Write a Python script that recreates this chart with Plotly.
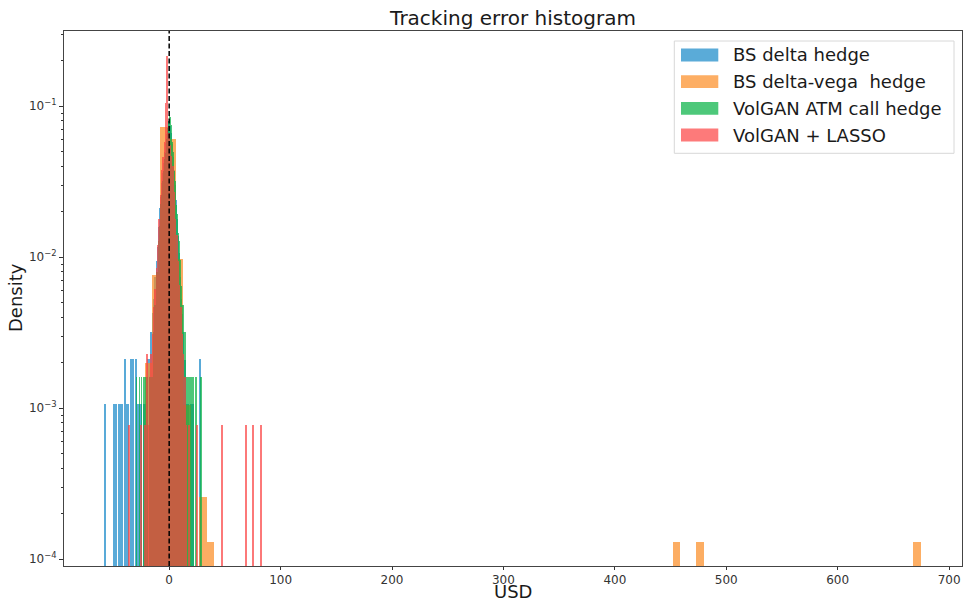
import plotly.graph_objects as go

# ---------------- data ----------------
# Each histogram: first bin left edge, bin width, indices of non-empty bins, densities
blue_start, blue_width = -57.8, 0.86
blue_bin_idx = [0, 9, 11, 14, 16, 18, 21, 22, 23, 24, 27, 29, 32, 33, 35, 37, 40, 42,
                45, 46, 47, 48, 49, 50, 51, 52, 53, 54, 55, 56, 57, 58, 59, 60, 61, 62,
                63, 64, 65, 66, 67, 68, 69, 70, 71, 72, 73, 74, 75, 76, 77, 78, 79, 80,
                81, 82, 83, 84, 86, 89, 92, 99]
blue_density = [1.06e-3, 1.06e-3, 1.06e-3, 1.06e-3, 1.06e-3, 1.06e-3, 2.12e-3, 1.06e-3,
                1.06e-3, 1.06e-3, 2.12e-3, 2.12e-3, 2.12e-3, 1.06e-3, 1.06e-3, 1.06e-3,
                1.06e-3, 1.06e-3, 2.12e-3, 2.12e-3, 1.06e-3, 3.18e-3, 2.12e-3, 4.24e-3,
                5.3e-3, 7.4e-3, 6.4e-3, 9.5e-3, 0.0117, 0.0159, 0.0212, 0.025, 0.031,
                0.036, 0.042, 0.05, 0.057, 0.065, 0.072, 0.078, 0.08, 0.074, 0.066,
                0.056, 0.046, 0.038, 0.03, 0.024, 0.018, 0.0138, 0.0106, 0.0074, 0.0053,
                0.0042, 0.0032, 0.0021, 0.0021, 1.06e-3, 1.06e-3, 1.06e-3, 1.06e-3, 2.12e-3]

orange_start, orange_width = -22.06, 6.97
orange_bin_idx = [0, 1, 2, 3, 4, 5, 7, 8, 68, 71, 99]
orange_density = [2.0e-3, 7.65e-3, 0.073, 0.061, 9.7e-3, 1.05e-3, 2.6e-4, 1.3e-4,
                  1.3e-4, 1.3e-4, 1.3e-4]

green_start, green_width = -29.7, 0.584
green_bin_idx = [0, 5, 8, 11, 13, 15, 17, 20, 22, 24, 26, 27, 28, 29, 30, 31,
                 32, 33, 34, 35, 36, 37, 38, 39, 40, 41, 42, 43, 44, 45, 46, 47, 48, 49,
                 50, 51, 52, 53, 54, 55, 56, 57, 58, 59, 60, 61, 62, 63, 64, 65, 66, 67,
                 68, 69, 70, 71, 72, 73, 74, 75, 76, 77, 78, 80, 82, 85, 88, 92, 99]
green_density = [1.6e-3, 1.6e-3, 1.6e-3, 1.6e-3, 1.6e-3, 1.6e-3, 1.6e-3, 1.6e-3, 1.6e-3,
                 1.6e-3, 3.2e-3, 1.6e-3, 3.2e-3, 4.8e-3, 3.2e-3, 6.4e-3,
                 8.0e-3, 6.4e-3, 0.0112, 0.0128, 0.016, 0.021, 0.0224, 0.026, 0.029,
                 0.032, 0.037, 0.04, 0.045, 0.049, 0.056, 0.061, 0.066, 0.072, 0.08,
                 0.087, 0.085, 0.075, 0.066, 0.058, 0.05, 0.044, 0.037, 0.032, 0.027,
                 0.022, 0.0192, 0.017, 0.0144, 0.0128, 0.0112, 0.0096, 0.008, 0.0064,
                 0.0048, 0.0032, 0.0048, 0.0032, 0.0016, 0.0032, 0.0016, 0.0016, 0.0016,
                 0.0016, 0.0016, 0.0016, 0.0016, 0.0016, 0.0016]

red_start, red_width = -36.7, 1.197
red_bin_idx = [0, 9, 12, 14, 15, 16, 17, 18, 19, 20, 21, 22, 23, 24, 25, 26, 27, 28, 29,
               30, 31, 32, 33, 34, 35, 36, 37, 38, 39, 40, 41, 42, 43, 45, 51, 70, 88,
               93, 99]
red_density = [7.8e-4, 7.8e-4, 7.8e-4, 2.3e-3, 7.8e-4, 1.6e-3, 2.3e-3, 3.1e-3, 4.7e-3,
               6.2e-3, 8.5e-3, 0.012, 0.018, 0.026, 0.038, 0.046, 0.058, 0.105, 0.216,
               0.066, 0.055, 0.047, 0.04, 0.027, 0.018, 0.014, 9.5e-3, 6.5e-3, 4.7e-3,
               3.1e-3, 2.3e-3, 1.6e-3, 7.8e-4, 7.8e-4, 7.8e-4, 7.8e-4, 7.8e-4, 7.8e-4,
               7.8e-4]

series_names = ["BS delta hedge", "BS delta-vega\u00a0 hedge",
                "VolGAN ATM call hedge", "VolGAN + LASSO"]
series_colors = ["#1487c8", "#fc8b22", "#02b041", "#fc4141"]

x_tick_vals = [0, 100, 200, 300, 400, 500, 600, 700]
y_tick_vals = [1e-4, 1e-3, 1e-2, 1e-1]
y_tick_text = ["10<sup>\u22124</sup>", "10<sup>\u22123</sup>",
               "10<sup>\u22122</sup>", "10<sup>\u22121</sup>"]
y_minor_vals = [m * 10.0 ** e for e in (-5, -4, -3, -2, -1) for m in range(2, 10)]

# ---------------- figure ----------------
FONT = "DejaVu Sans"
OPACITY = 0.7
W, H = 963, 601
ML, MR, MT, MB = 64, 1, 31, 35
PW, PH = W - ML - MR, H - MT - MB

series = [
    (blue_start, blue_width, blue_bin_idx, blue_density),
    (orange_start, orange_width, orange_bin_idx, orange_density),
    (green_start, green_width, green_bin_idx, green_density),
    (red_start, red_width, red_bin_idx, red_density),
]

fig = go.Figure()
for (start, width, idx, dens), name, color in zip(series, series_names, series_colors):
    centers = [start + width * (k + 0.5) for k in idx]
    fig.add_trace(go.Bar(
        x=centers, y=dens, width=width, name=name,
        marker=dict(color=color, line=dict(width=0)),
        opacity=OPACITY, showlegend=False,
    ))

# dashed zero line
fig.add_shape(type="line", xref="x", yref="paper", x0=0, x1=0, y0=0, y1=1,
              line=dict(color="black", width=1.5, dash="5px,2.5px"), layer="above")


def px_x(px):
    return (px - ML) / PW


def px_y(py):
    return (H - MB - py) / PH


# legend (matplotlib style: wide swatches)
fig.add_shape(type="rect", xref="paper", yref="paper",
              x0=px_x(674.3), x1=px_x(954), y0=px_y(153.3), y1=px_y(41),
              line=dict(color="#d8d8d8", width=1), fillcolor="rgba(255,255,255,0.8)",
              layer="above")
row_y_px = [55, 81.7, 108.3, 135]
for name, color, ypx in zip(series_names, series_colors, row_y_px):
    fig.add_shape(type="rect", xref="paper", yref="paper",
                  x0=px_x(681), x1=px_x(718.3),
                  y0=px_y(ypx + 6.4), y1=px_y(ypx - 6.4),
                  line=dict(width=0), fillcolor=color, opacity=OPACITY, layer="above")
    fig.add_annotation(xref="paper", yref="paper", x=px_x(731), y=px_y(ypx),
                       text=name, showarrow=False, xanchor="left", yanchor="middle",
                       font=dict(family=FONT, size=18, color="#1a1a1a"))

# axis titles
fig.add_annotation(xref="paper", yref="paper", x=px_x(513), y=px_y(591.5),
                   text="USD", showarrow=False, xanchor="center", yanchor="middle",
                   font=dict(family=FONT, size=18, color="#1a1a1a"))
fig.add_annotation(xref="paper", yref="paper", x=px_x(15), y=px_y(298),
                   text="Density", showarrow=False, xanchor="center", yanchor="middle",
                   textangle=-90, font=dict(family=FONT, size=18, color="#1a1a1a"))

fig.update_layout(
    width=W, height=H,
    margin=dict(l=ML, r=MR, t=MT, b=MB, autoexpand=False),
    paper_bgcolor="white", plot_bgcolor="white",
    barmode="overlay", bargap=0,
    font=dict(family=FONT, color="#1a1a1a"),
    title=dict(text="Tracking error histogram", x=513 / W, xanchor="center",
               xref="container", y=1 - 18 / H, yanchor="middle",
               font=dict(family=FONT, size=20, color="#1a1a1a")),
    showlegend=False,
)
fig.update_xaxes(
    range=[-94.4, 711.6], tickvals=x_tick_vals, ticks="outside", ticklen=3,
    tickcolor="#333", tickfont=dict(size=12, family=FONT, color="#333"),
    showline=True, linecolor="#444", linewidth=1, mirror=True,
    showgrid=False, zeroline=False, automargin=False,
)
fig.update_yaxes(
    type="log", range=[-4.045, -0.502], tickvals=y_tick_vals, ticktext=y_tick_text,
    ticks="outside", ticklen=4, tickcolor="#333",
    tickfont=dict(size=12, family=FONT, color="#333"),
    minor=dict(tickvals=y_minor_vals, ticks="outside", ticklen=2, tickcolor="#333",
               showgrid=False),
    showline=True, linecolor="#444", linewidth=1, mirror=True,
    showgrid=False, zeroline=False, automargin=False,
)

fig.write_html(
    "out.html",
    config={"displayModeBar": False},
    post_script="document.body.style.margin='0';document.body.style.padding='0';",
)
